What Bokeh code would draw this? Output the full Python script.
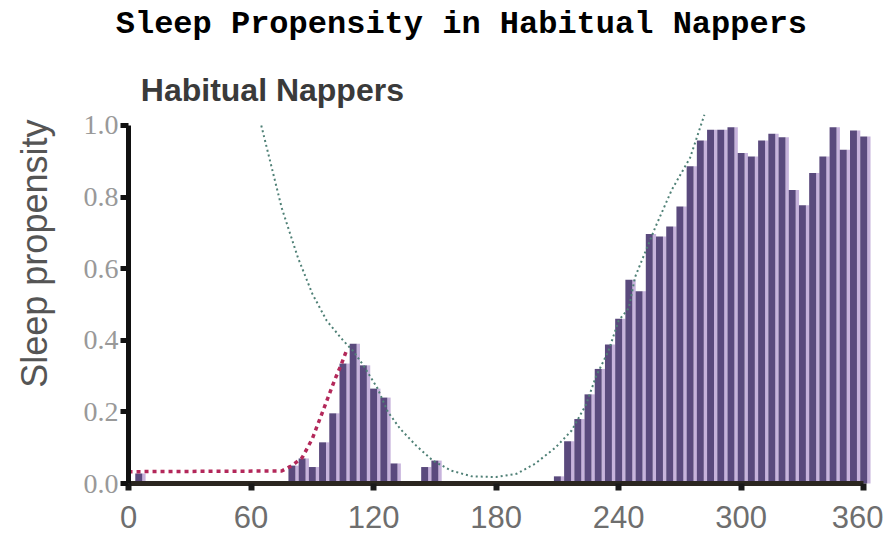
import math
from bokeh.plotting import figure
from bokeh.models import Range1d, FixedTicker, NumeralTickFormatter, Label, ColumnDataSource
from bokeh.transform import dodge
from bokeh.embed import file_html
from bokeh.resources import INLINE

# minutes (bin positions) and sleep propensity values
bar_minutes = [5, 80, 85, 90, 95, 100, 105, 110, 115, 120, 125, 130, 145, 150,
               210, 215, 220, 225, 230, 235, 240, 245, 250, 255, 260, 265, 270, 275,
               280, 285, 290, 295, 300, 305, 310, 315, 320, 325, 330, 335, 340, 345,
               350, 355, 360]
bar_values = [0.028, 0.05, 0.07, 0.046, 0.115, 0.196, 0.335, 0.39, 0.33, 0.265, 0.24, 0.056, 0.046, 0.064,
              0.02, 0.118, 0.18, 0.249, 0.32, 0.388, 0.46, 0.569, 0.537, 0.697, 0.69, 0.718, 0.774, 0.886,
              0.958, 0.988, 0.988, 0.995, 0.923, 0.913, 0.958, 0.977, 0.967, 0.82, 0.777, 0.867, 0.913, 0.995,
              0.932, 0.986, 0.969]

# red dotted curve (model fit to first nap period)
red_minutes = [0, 75, 80, 85, 90, 93, 97, 101, 104, 107]
red_values = [0.033, 0.035, 0.05, 0.072, 0.125, 0.17, 0.23, 0.29, 0.33, 0.375]

# green dotted curve
green_minutes = [65, 75, 83, 90, 97, 105, 110, 115, 122, 127, 133, 141, 149, 158, 168, 180,
                 190, 199, 209, 217, 224, 229, 235, 240, 245, 248, 258, 266, 275, 282]
green_values = [1.0, 0.77, 0.63, 0.53, 0.455, 0.40, 0.37, 0.33, 0.265, 0.2, 0.153, 0.105, 0.064, 0.036, 0.02, 0.018,
                0.027, 0.055, 0.1, 0.148, 0.22, 0.30, 0.37, 0.455, 0.49, 0.576, 0.716, 0.82, 0.91, 1.03]

x_ticks = [0, 60, 120, 180, 240, 300, 360]
y_ticks = [0.0, 0.2, 0.4, 0.6, 0.8, 1.0]

chart_title = "Sleep Propensity in Habitual Nappers"
panel_label = "Habitual Nappers"
y_label = "Sleep propensity"

src = ColumnDataSource(dict(x=bar_minutes, y=bar_values))

p = figure(width=883, height=538, output_backend="svg", toolbar_location=None,
           x_range=Range1d(-62.7, 369.7), y_range=Range1d(-0.1536, 1.349),
           min_border_left=0, min_border_right=0, min_border_top=0, min_border_bottom=0)

p.background_fill_color = "white"
p.border_fill_color = "white"
p.outline_line_color = None
p.grid.visible = False

# bars: lighter strip to the right of each dark bar
p.vbar(x=dodge("x", 2.5, range=p.x_range), top="y", bottom=0, width=1.7, source=src,
       fill_color="#c7b3dc", line_color=None)
p.vbar(x="x", top="y", bottom=0, width=3.4, source=src,
       fill_color="#5a4a7d", line_color=None)

p.line(red_minutes, red_values, line_color="#b3285a", line_width=3.5, line_dash="4 4")
p.line(green_minutes, green_values, line_color="#4f8076", line_width=2, line_dash="2 3")

p.add_layout(Label(x=163, y=1.282, text=chart_title, text_font="Liberation Mono",
                   text_font_size="32px", text_font_style="bold", text_color="#000000",
                   text_align="center", text_baseline="middle"))

p.add_layout(Label(x=6, y=1.098, text=panel_label, text_font="Liberation Sans",
                   text_font_size="32px", text_font_style="bold", text_color="#3a3a3a",
                   text_align="left", text_baseline="middle"))

p.add_layout(Label(x=-46, y=0.642, text=y_label, angle=math.pi / 2, text_font="Liberation Sans",
                   text_font_size="36px", text_color="#555555",
                   text_align="center", text_baseline="middle"))

xa = p.xaxis[0]
xa.fixed_location = 0
xa.ticker = FixedTicker(ticks=x_ticks)
xa.bounds = (0, 360)
xa.axis_line_width = 5
xa.axis_line_color = "#2b2620"
xa.major_tick_line_width = 6
xa.major_tick_line_color = "#1a1a1a"
xa.major_tick_out = 7
xa.major_tick_in = 0
xa.minor_tick_line_color = None
xa.major_label_text_font = "Liberation Sans"
xa.major_label_text_font_size = "31px"
xa.major_label_text_color = "#6e6e6e"
xa.major_label_standoff = 15

ya = p.yaxis[0]
ya.fixed_location = 0
ya.ticker = FixedTicker(ticks=y_ticks)
ya.formatter = NumeralTickFormatter(format="0.0")
ya.bounds = (0, 1)
ya.axis_line_width = 5
ya.axis_line_color = "#111111"
ya.major_tick_line_width = 5
ya.major_tick_line_color = "#111111"
ya.major_tick_out = 8
ya.major_tick_in = 0
ya.minor_tick_line_color = None
ya.major_label_text_font = "Liberation Serif"
ya.major_label_text_font_size = "28px"
ya.major_label_text_color = "#999999"
ya.major_label_standoff = 2

open("out.html", "w").write(file_html(p, INLINE))
